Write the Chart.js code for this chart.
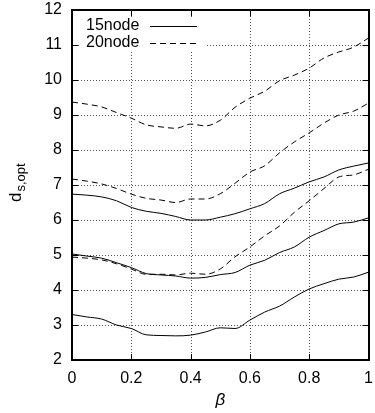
<!DOCTYPE html>
<html>
<head>
<meta charset="utf-8">
<style>
    html, body { margin: 0; padding: 0; background: #fff; }
    #wrap { position: relative; width: 375px; height: 413px; }
</style>
<script src="https://cdn.jsdelivr.net/npm/chart.js@4/dist/chart.umd.min.js"></script>
</head>
<body>
<div id="wrap"><canvas id="chart"></canvas></div>
<script>
// ── 資料 ────────────────────────────────────────────────────────────────
var betas = [0, 0.05, 0.1, 0.15, 0.2, 0.25, 0.3, 0.35, 0.4, 0.45, 0.5,
             0.55, 0.6, 0.65, 0.7, 0.75, 0.8, 0.85, 0.9, 0.95, 1];

// 15node (solid)
var node15High = [6.74, 6.71, 6.66, 6.55, 6.36, 6.25, 6.19, 6.10, 6.00, 6.00, 6.08,
                  6.18, 6.32, 6.47, 6.75, 6.91, 7.09, 7.23, 7.43, 7.54, 7.63];
var node15Mid  = [5.03, 4.97, 4.91, 4.78, 4.64, 4.47, 4.43, 4.40, 4.34, 4.36, 4.44,
                  4.50, 4.71, 4.85, 5.07, 5.23, 5.51, 5.70, 5.89, 5.94, 6.06];
var node15Low  = [3.30, 3.23, 3.17, 3.00, 2.90, 2.72, 2.70, 2.69, 2.71, 2.80, 2.92,
                  2.90, 3.14, 3.37, 3.54, 3.80, 4.03, 4.18, 4.31, 4.37, 4.51];

// 20node (dashed)
var node20High = [9.37, 9.31, 9.23, 9.07, 8.91, 8.72, 8.66, 8.62, 8.74, 8.69, 8.85,
                  9.22, 9.48, 9.68, 9.98, 10.14, 10.34, 10.63, 10.80, 10.94, 11.20];
var node20Mid  = [7.17, 7.11, 7.03, 6.90, 6.74, 6.62, 6.57, 6.50, 6.60, 6.60, 6.75,
                  7.05, 7.37, 7.55, 7.92, 8.23, 8.49, 8.77, 9.00, 9.11, 9.34];
var node20Low  = [4.94, 4.91, 4.86, 4.75, 4.60, 4.45, 4.45, 4.43, 4.48, 4.45, 4.60,
                  4.95, 5.23, 5.55, 5.83, 6.22, 6.55, 6.90, 7.23, 7.29, 7.45];

var legendLabels = ['15node', '20node'];
var xTicks = [0, 0.2, 0.4, 0.6, 0.8, 1];
var yTicks = [2, 3, 4, 5, 6, 7, 8, 9, 10, 11, 12];

(function () {
    'use strict';

    var FONT = '"Liberation Sans", Arial, sans-serif';
    var DASH = [6, 4];

    function toPoints(ys) {
        return ys.map(function (y, i) { return { x: betas[i], y: y }; });
    }

    function line(ys, dashed) {
        return {
            data: toPoints(ys),
            borderColor: '#000',
            borderWidth: 1,
            borderDash: dashed ? DASH : [],
            pointRadius: 0,
            fill: false,
            cubicInterpolationMode: 'monotone'
        };
    }

    // 格線、圖框、內向刻度、圖例、軸標題
    var gnuplotLook = {
        id: 'gnuplotLook',
        beforeDatasetsDraw: function (chart) {
            var ctx = chart.ctx, a = chart.chartArea;
            var xs = chart.scales.x, ys = chart.scales.y;
            ctx.save();
            ctx.strokeStyle = '#555';
            ctx.lineWidth = 1;
            ctx.setLineDash([1, 2]);
            xTicks.slice(1, -1).forEach(function (v) {
                var px = Math.round(xs.getPixelForValue(v)) + 0.5;
                ctx.beginPath(); ctx.moveTo(px, a.top); ctx.lineTo(px, a.bottom); ctx.stroke();
            });
            yTicks.slice(1, -1).forEach(function (v) {
                var py = Math.round(ys.getPixelForValue(v)) + 0.5;
                ctx.beginPath(); ctx.moveTo(a.left, py); ctx.lineTo(a.right, py); ctx.stroke();
            });
            // 圖例底色，遮住格線
            ctx.setLineDash([]);
            ctx.fillStyle = '#fff';
            ctx.fillRect(a.left + 7, a.top + 8, 127, 34);
            ctx.restore();
        },
        afterDraw: function (chart) {
            var ctx = chart.ctx, a = chart.chartArea;
            var xs = chart.scales.x, ys = chart.scales.y;
            var T = 6;
            ctx.save();
            ctx.strokeStyle = '#000';
            ctx.lineWidth = 1;
            ctx.setLineDash([]);
            xTicks.forEach(function (v) {
                var px = Math.round(xs.getPixelForValue(v)) + 0.5;
                ctx.beginPath();
                ctx.moveTo(px, a.bottom); ctx.lineTo(px, a.bottom - T);
                ctx.moveTo(px, a.top); ctx.lineTo(px, a.top + T);
                ctx.stroke();
            });
            yTicks.forEach(function (v) {
                var py = Math.round(ys.getPixelForValue(v)) + 0.5;
                ctx.beginPath();
                ctx.moveTo(a.left, py); ctx.lineTo(a.left + T, py);
                ctx.moveTo(a.right, py); ctx.lineTo(a.right - T, py);
                ctx.stroke();
            });
            ctx.lineWidth = 2;
            ctx.strokeRect(Math.round(a.left), Math.round(a.top),
                           Math.round(a.right - a.left), Math.round(a.bottom - a.top));

            // 圖例：文字在前、線段在後
            ctx.font = '16px ' + FONT;
            ctx.fillStyle = '#000';
            ctx.textBaseline = 'middle';
            ctx.textAlign = 'left';
            ctx.lineWidth = 1;
            legendLabels.forEach(function (lbl, i) {
                var y = a.top + 16 + i * 17;
                ctx.fillText(lbl, a.left + 14, y);
                ctx.setLineDash(i === 0 ? [] : DASH);
                ctx.beginPath();
                ctx.moveTo(a.left + 78, Math.round(y) + 0.5);
                ctx.lineTo(a.left + 125, Math.round(y) + 0.5);
                ctx.stroke();
            });
            ctx.setLineDash([]);

            // x 軸標題
            ctx.font = 'italic 17px ' + FONT;
            ctx.textAlign = 'center';
            ctx.textBaseline = 'middle';
            ctx.fillText('β', (a.left + a.right) / 2, 400);

            // y 軸標題 d_{s,opt}
            ctx.translate(21, 202);
            ctx.rotate(-Math.PI / 2);
            ctx.textAlign = 'left';
            ctx.textBaseline = 'alphabetic';
            ctx.font = '17px ' + FONT;
            ctx.fillText('d', 0, 0);
            var dw = ctx.measureText('d').width;
            ctx.font = '13px ' + FONT;
            ctx.fillText('s,opt', dw + 1, 4);
            ctx.restore();
        }
    };

    function init() {
        var canvas = document.getElementById('chart');
        new Chart(canvas.getContext('2d'), {
            type: 'line',
            data: {
                datasets: [
                    line(node15High, false),
                    line(node15Mid, false),
                    line(node15Low, false),
                    line(node20High, true),
                    line(node20Mid, true),
                    line(node20Low, true)
                ]
            },
            options: {
                responsive: true,
                maintainAspectRatio: false,
                animation: false,
                layout: { padding: { top: 10, right: 6.5, left: 0, bottom: 0 } },
                plugins: { legend: { display: false }, tooltip: { enabled: false } },
                scales: {
                    x: {
                        type: 'linear',
                        min: 0, max: 1,
                        afterBuildTicks: function (s) {
                            s.ticks = xTicks.map(function (v) { return { value: v }; });
                        },
                        afterFit: function (s) { s.height = 53; },
                        // 刻度線不畫（grid.display=false），只借 tickLength 當標籤間距
                        grid: { display: false, drawTicks: true, tickLength: 9, tickColor: 'rgba(0,0,0,0)' },
                        border: { display: false },
                        ticks: {
                            padding: 0,
                            color: '#000',
                            font: { family: FONT, size: 16 },
                            maxRotation: 0,
                            callback: function (v) { return String(v); }
                        }
                    },
                    y: {
                        type: 'linear',
                        min: 2, max: 12,
                        afterBuildTicks: function (s) {
                            s.ticks = yTicks.map(function (v) { return { value: v }; });
                        },
                        afterFit: function (s) { s.width = 72; },
                        grid: { display: false, drawTicks: true, tickLength: 10, tickColor: 'rgba(0,0,0,0)' },
                        border: { display: false },
                        ticks: {
                            padding: 0,
                            color: '#000',
                            font: { family: FONT, size: 16 },
                            callback: function (v) { return String(v); }
                        }
                    }
                }
            },
            plugins: [gnuplotLook]
        });
    }

    document.addEventListener('DOMContentLoaded', init);
})();
</script>
</body>
</html>
